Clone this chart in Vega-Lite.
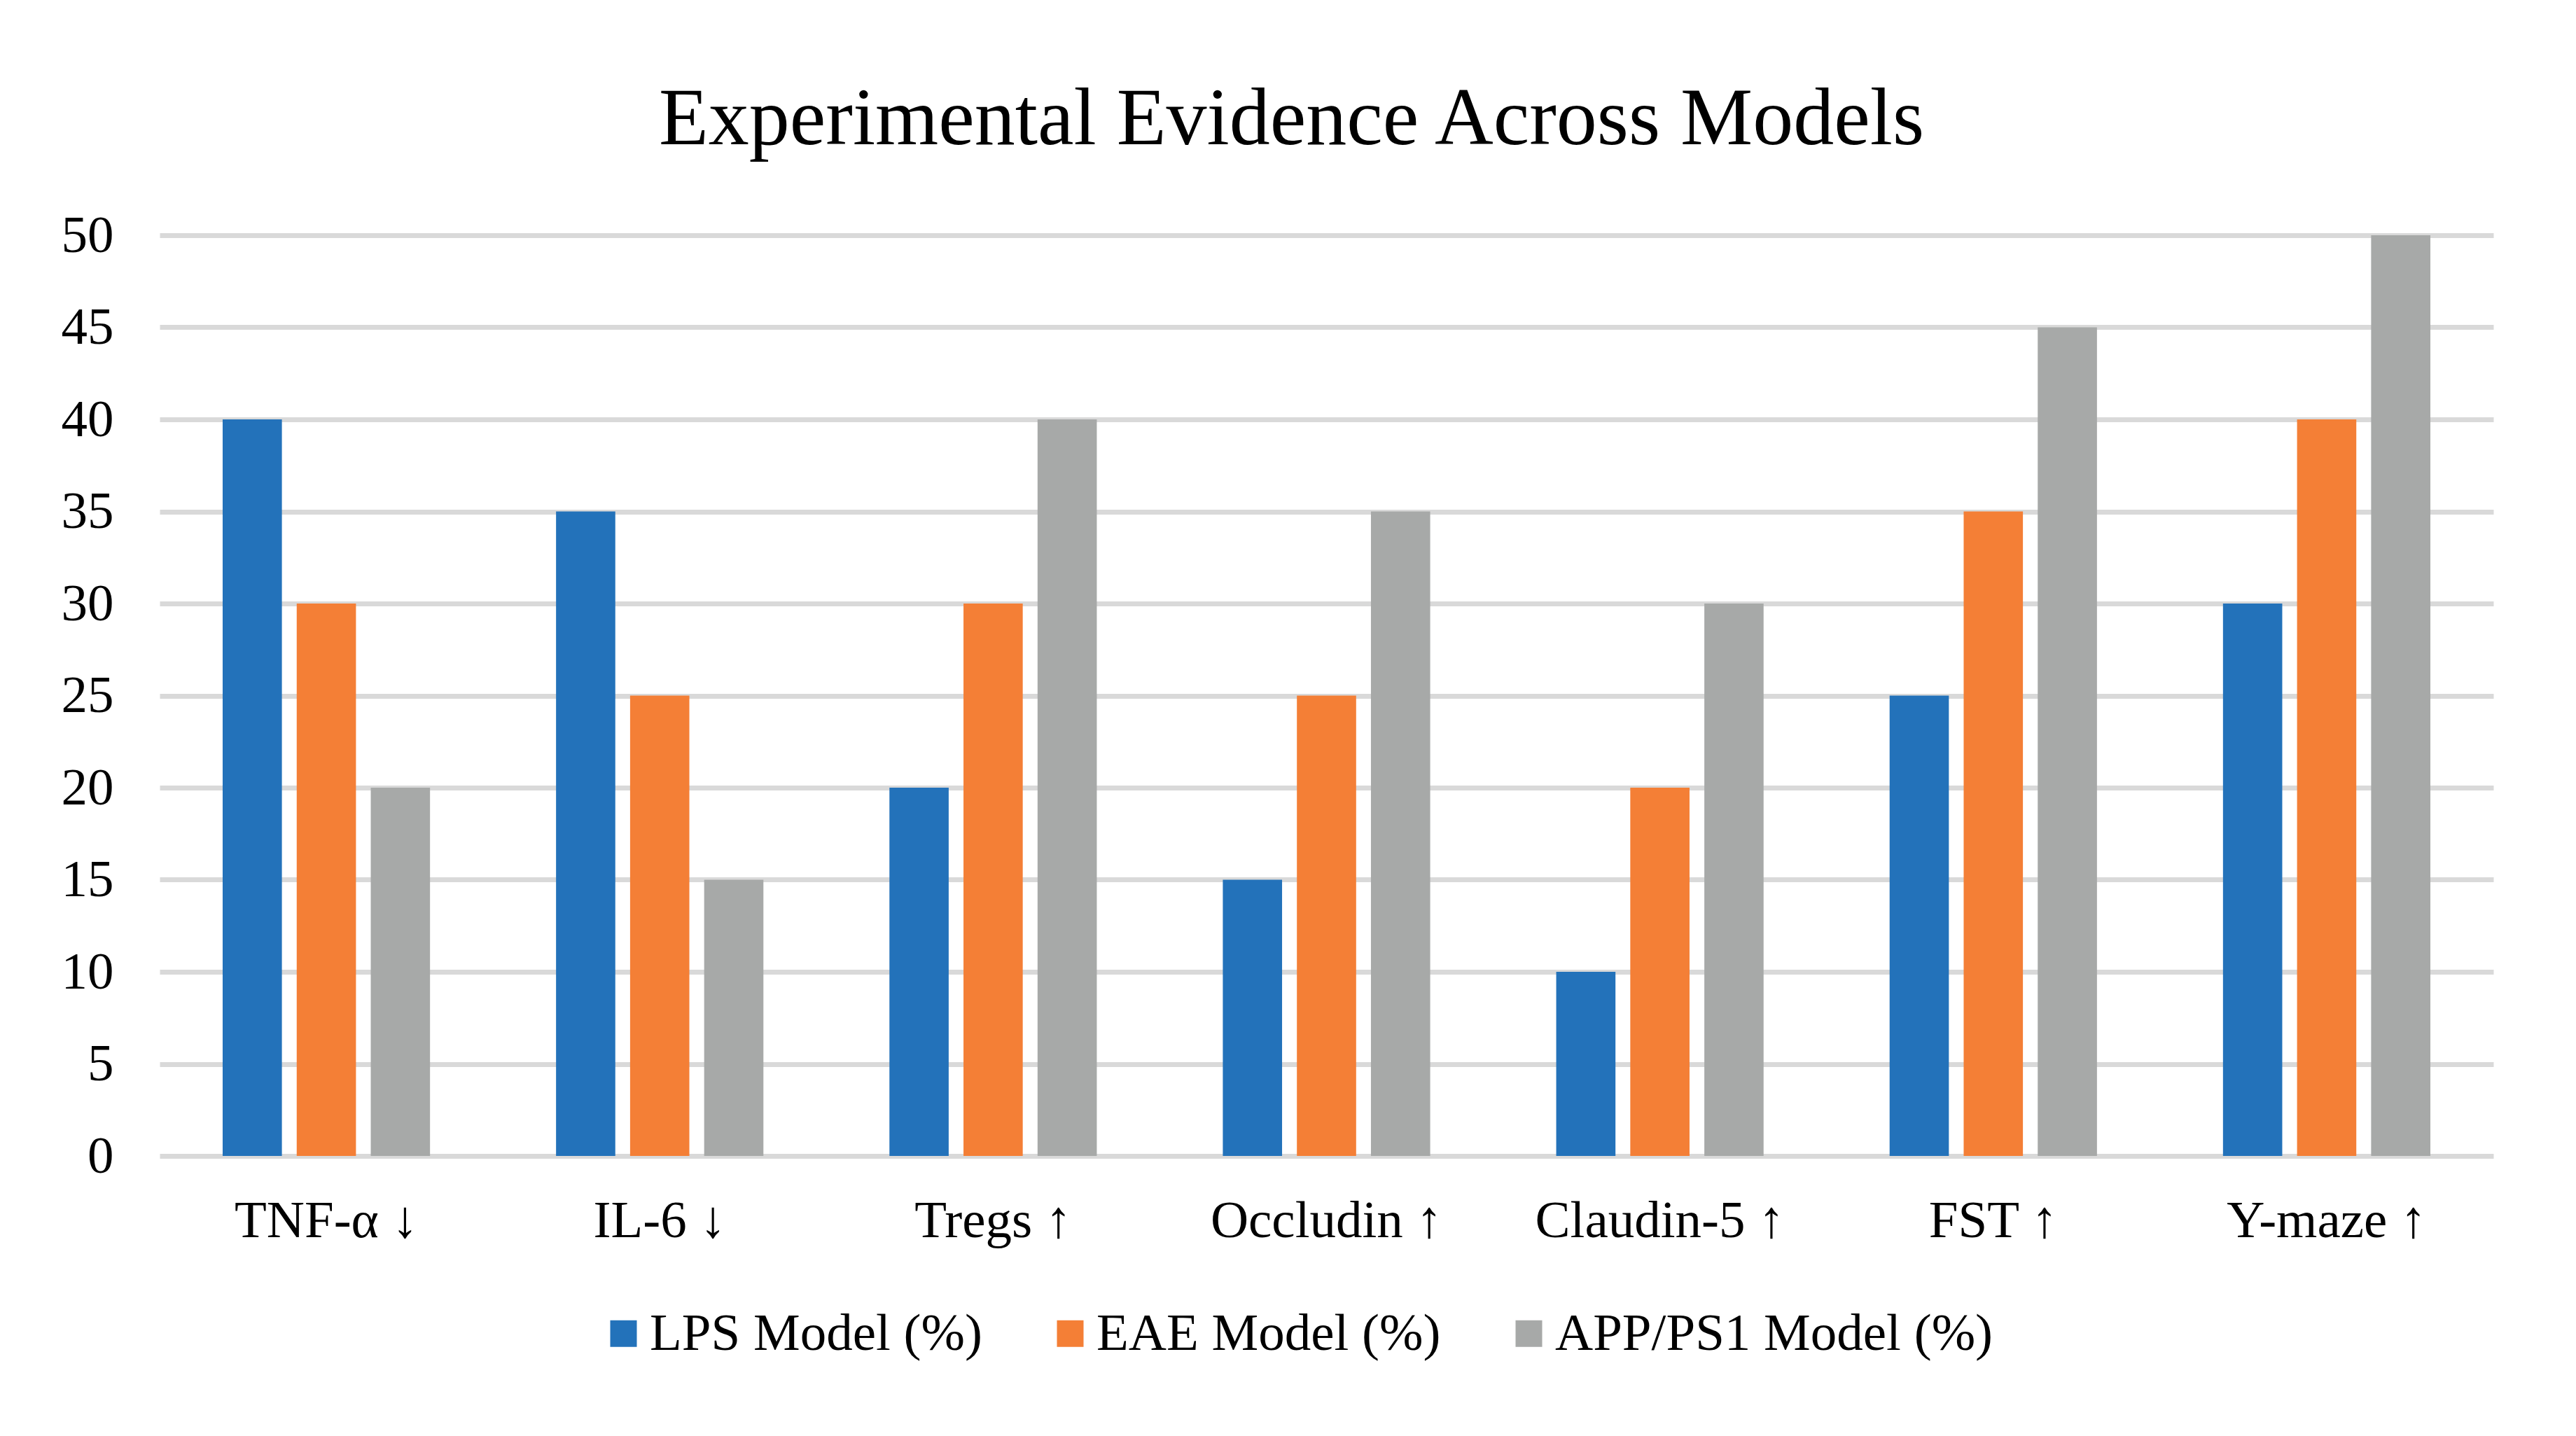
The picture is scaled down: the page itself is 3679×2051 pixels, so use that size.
{
  "$schema": "https://vega.github.io/schema/vega-lite/v6.json",
  "width": 3333,
  "height": 1315,
  "autosize": {"type": "none"},
  "padding": {"left": 228, "top": 336, "right": 118, "bottom": 400},
  "background": "white",
  "title": {
    "text": "Experimental Evidence Across Models",
    "font": "Liberation Serif",
    "fontSize": 116,
    "fontWeight": "normal",
    "color": "#000000",
    "anchor": "middle",
    "dx": -50,
    "offset": 69
  },
  "data": {
    "values": [
      {"metric": "TNF-α ↓", "model": "LPS Model (%)", "value": 40},
      {"metric": "TNF-α ↓", "model": "EAE Model (%)", "value": 30},
      {"metric": "TNF-α ↓", "model": "APP/PS1 Model (%)", "value": 20},
      {"metric": "IL-6 ↓", "model": "LPS Model (%)", "value": 35},
      {"metric": "IL-6 ↓", "model": "EAE Model (%)", "value": 25},
      {"metric": "IL-6 ↓", "model": "APP/PS1 Model (%)", "value": 15},
      {"metric": "Tregs ↑", "model": "LPS Model (%)", "value": 20},
      {"metric": "Tregs ↑", "model": "EAE Model (%)", "value": 30},
      {"metric": "Tregs ↑", "model": "APP/PS1 Model (%)", "value": 40},
      {"metric": "Occludin ↑", "model": "LPS Model (%)", "value": 15},
      {"metric": "Occludin ↑", "model": "EAE Model (%)", "value": 25},
      {"metric": "Occludin ↑", "model": "APP/PS1 Model (%)", "value": 35},
      {"metric": "Claudin-5 ↑", "model": "LPS Model (%)", "value": 10},
      {"metric": "Claudin-5 ↑", "model": "EAE Model (%)", "value": 20},
      {"metric": "Claudin-5 ↑", "model": "APP/PS1 Model (%)", "value": 30},
      {"metric": "FST ↑", "model": "LPS Model (%)", "value": 25},
      {"metric": "FST ↑", "model": "EAE Model (%)", "value": 35},
      {"metric": "FST ↑", "model": "APP/PS1 Model (%)", "value": 45},
      {"metric": "Y-maze ↑", "model": "LPS Model (%)", "value": 30},
      {"metric": "Y-maze ↑", "model": "EAE Model (%)", "value": 40},
      {"metric": "Y-maze ↑", "model": "APP/PS1 Model (%)", "value": 50}
    ]
  },
  "mark": {"type": "bar"},
  "encoding": {
    "x": {
      "field": "metric",
      "type": "nominal",
      "sort": null,
      "scale": {"paddingInner": 0.378, "paddingOuter": 0.189},
      "axis": {
        "title": null,
        "labelAngle": 0,
        "labelFont": "Liberation Serif",
        "labelFontSize": 75,
        "labelColor": "#000000",
        "labelPadding": 56,
        "labelLimit": 1000,
        "ticks": false,
        "domain": false,
        "grid": false
      }
    },
    "xOffset": {
      "field": "model",
      "type": "nominal",
      "sort": ["LPS Model (%)", "EAE Model (%)", "APP/PS1 Model (%)"],
      "scale": {"paddingInner": 0.2, "paddingOuter": 0}
    },
    "y": {
      "field": "value",
      "type": "quantitative",
      "scale": {"domain": [0, 50], "nice": false},
      "axis": {
        "title": null,
        "values": [0, 5, 10, 15, 20, 25, 30, 35, 40, 45, 50],
        "labelFont": "Liberation Serif",
        "labelFontSize": 75,
        "labelColor": "#000000",
        "labelPadding": 66,
        "ticks": false,
        "domain": false,
        "grid": true,
        "gridColor": "#d9d9d9",
        "gridWidth": 7
      }
    },
    "color": {
      "field": "model",
      "type": "nominal",
      "sort": ["LPS Model (%)", "EAE Model (%)", "APP/PS1 Model (%)"],
      "scale": {
        "domain": ["LPS Model (%)", "EAE Model (%)", "APP/PS1 Model (%)"],
        "range": ["#2372ba", "#f47f36", "#a7a9a8"]
      },
      "legend": {
        "title": null,
        "orient": "none",
        "direction": "horizontal",
        "legendX": 625,
        "legendY": 1531,
        "padding": 0,
        "symbolType": "square",
        "symbolSize": 1444,
        "symbolStrokeWidth": 0,
        "labelFont": "Liberation Serif",
        "labelFontSize": 75,
        "labelColor": "#000000",
        "labelOffset": 0,
        "columnPadding": 88,
        "labelLimit": 1000
      }
    }
  },
  "config": {
    "view": {"stroke": null}
  }
}
